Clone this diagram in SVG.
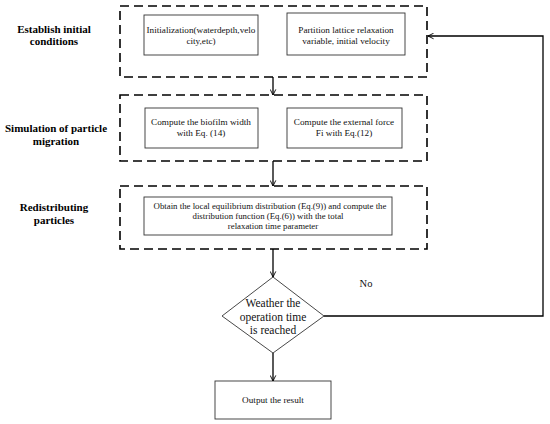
<svg xmlns="http://www.w3.org/2000/svg" width="550" height="424" viewBox="0 0 550 424">
<defs>
<marker id="arr" viewBox="0 0 10 10" refX="9" refY="5" markerWidth="7" markerHeight="7" orient="auto" markerUnits="userSpaceOnUse">
<path d="M1,1 L9,5 L1,9" fill="none" stroke="#000" stroke-width="1.3"/>
</marker>
<style>
.dash{fill:none;stroke:#000;stroke-width:1.6;stroke-dasharray:9 5}
.box{fill:#fff;stroke:#333;stroke-width:0.9}
text{font-family:'Liberation Serif','Times New Roman','DejaVu Serif',serif;fill:#111;text-anchor:middle}
.t{font-size:9.2px}
.lbl{font-size:11px;font-weight:bold;fill:#000}
.big{font-size:11.5px}
.con{fill:none;stroke:#000;stroke-width:1.3}
</style>
</defs>
<rect width="550" height="424" fill="#fff"/>

<g id="stage1">
<rect class="dash" x="120" y="6" width="307" height="71"/>
<text class="lbl" x="54" y="33">Establish initial</text>
<text class="lbl" x="54" y="45">conditions</text>
</g>
<g id="init">
<rect class="box" x="144" y="15" width="114" height="40"/>
<text class="t" x="201" y="33">Initialization(waterdepth,velo</text>
<text class="t" x="201" y="44">city,etc)</text>
</g>
<g id="partition">
<rect class="box" x="287" y="13" width="118" height="42"/>
<text class="t" x="346" y="33">Partition lattice relaxation</text>
<text class="t" x="346" y="44">variable, initial velocity</text>
</g>

<g id="stage2">
<rect class="dash" x="120" y="95" width="307" height="66"/>
<text class="lbl" x="56" y="132">Simulation of particle</text>
<text class="lbl" x="56" y="145">migration</text>
</g>
<g id="biofilm">
<rect class="box" x="145" y="108" width="113" height="40"/>
<text class="t" x="201" y="125">Compute the biofilm width</text>
<text class="t" x="201" y="136">with Eq. (14)</text>
</g>
<g id="force">
<rect class="box" x="287" y="108" width="115" height="40"/>
<text class="t" x="344" y="125">Compute the external force</text>
<text class="t" x="344" y="136">Fi with Eq.(12)</text>
</g>

<g id="stage3">
<rect class="dash" x="120" y="186" width="307" height="63"/>
<text class="lbl" x="54" y="211">Redistributing</text>
<text class="lbl" x="54" y="224">particles</text>
</g>
<g id="redistribute">
<rect class="box" x="144" y="197" width="248" height="38"/>
<text class="t" x="270" y="209" style="font-size:8.8px">Obtain the local equilibrium distribution (Eq.(9)) and compute the</text>
<text class="t" x="268" y="219" style="font-size:8.8px">distribution function (Eq.(6)) with the total</text>
<text class="t" x="273" y="229" style="font-size:8.8px">relaxation time parameter</text>
</g>

<g id="decision">
<polygon points="273,277 324,316 273,353 222,316" fill="#fff" stroke="#333" stroke-width="0.9"/>
<text class="big" x="273" y="307">Weather the</text>
<text class="big" x="273" y="321">operation time</text>
<text class="big" x="273" y="334">is reached</text>
</g>

<g id="output">
<rect class="box" x="215" y="381" width="116" height="38"/>
<text class="t" x="273" y="403">Output the result</text>
</g>

<g id="connectors">
<line class="con" x1="273" y1="77" x2="273" y2="95" marker-end="url(#arr)"/>
<line class="con" x1="273" y1="161" x2="273" y2="186" marker-end="url(#arr)"/>
<line class="con" x1="273" y1="249" x2="273" y2="277" marker-end="url(#arr)"/>
<line class="con" x1="273" y1="353" x2="273" y2="381" marker-end="url(#arr)"/>
<polyline class="con" points="324,316 543,316 543,36 428,36" marker-end="url(#arr)"/>
<text class="t" x="366" y="287" style="font-size:10.5px">No</text>
</g>
</svg>
